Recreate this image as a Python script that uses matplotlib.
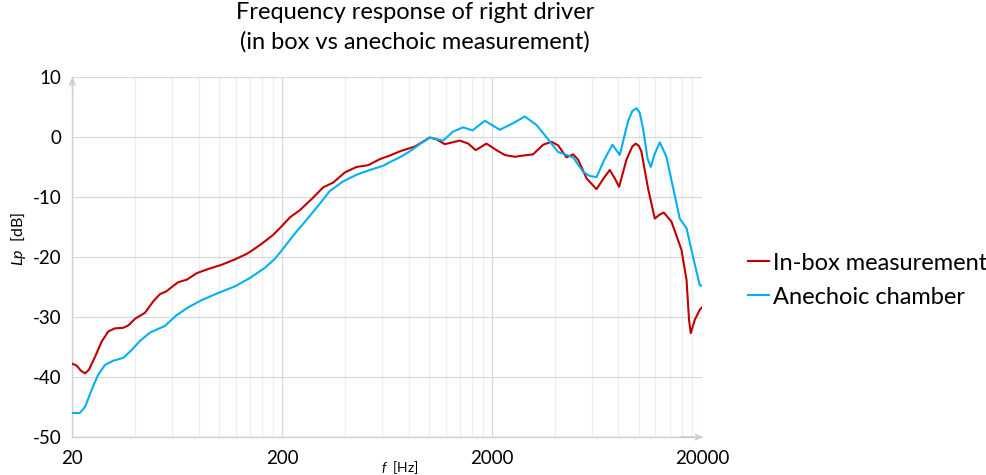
import numpy as np
import matplotlib
matplotlib.use("Agg")
import matplotlib.pyplot as plt
from matplotlib.ticker import FixedLocator, FixedFormatter, NullFormatter

plt.rcParams['font.family'] = ['Lato', 'DejaVu Sans']
plt.rcParams['mathtext.fontset'] = 'custom'
plt.rcParams['mathtext.it'] = 'Lato:italic'
plt.rcParams['mathtext.rm'] = 'Lato'
plt.rcParams['axes.unicode_minus'] = False

# --- data ---
inbox_f = [20, 21, 21.9, 23, 24, 25.7, 27.6, 29.7, 31.9, 35, 37, 39.8, 44.4, 48.6,
           52.3, 56.3, 60.6, 64, 70.1, 78.3, 88.9, 102.9, 119.1, 135.3, 145.5,
           162.5, 181.3, 198.6, 217.7, 242.8, 281, 313.4, 349.9, 398, 452, 514,
           583.5, 651.6, 726, 857, 1010, 1087, 1191, 1403, 1538, 1671, 1879, 2098,
           2297, 2564, 2810, 3134, 3499, 3835, 4124, 4521, 4864, 5140, 5636, 6286,
           6889, 7268, 7680, 8053, 8730, 9300, 9663, 10000, 10282, 11065, 11912,
           12500, 13146, 14299, 15960, 16870, 17345, 17670, 18460, 19500, 20000]
inbox_db = [-37.8, -38.1, -38.9, -39.4, -38.8, -36.6, -34.1, -32.4, -31.9, -31.8,
            -31.4, -30.3, -29.3, -27.4, -26.2, -25.7, -24.8, -24.2, -23.8, -22.7,
            -22.0, -21.3, -20.4, -19.5, -18.8, -17.6, -16.3, -14.9, -13.4, -12.2,
            -10.1, -8.4, -7.6, -5.9, -5.0, -4.7, -3.7, -3.1, -2.4, -1.6, -0.1, -0.4,
            -1.2, -0.6, -1.1, -2.2, -1.1, -2.2, -3.0, -3.3, -3.1, -2.9, -1.3, -0.8,
            -1.4, -3.4, -2.9, -3.8, -6.9, -8.7, -6.6, -5.5, -6.9, -8.3, -3.8, -1.6,
            -1.1, -1.5, -2.4, -8.6, -13.6, -13.0, -12.6, -14.1, -18.8, -23.8, -30.5,
            -32.7, -30.5, -28.8, -28.4]

anech_f = [20, 21.7, 23, 24.7, 26.5, 28.6, 31.3, 35, 38.4, 42, 46.9, 55.2, 62.8,
           71.3, 82.6, 99.1, 119.1, 140.4, 165.5, 184.6, 202.2, 229.7, 261.3,
           302.4, 337.4, 390.4, 452, 523.4, 605.5, 651.6, 726, 811, 905, 1010,
           1169, 1304, 1455, 1613, 1846, 2177, 2519, 2863, 3254, 3564, 3835, 4124,
           4521, 4864, 5422, 5835, 6286, 6889, 7485, 8109, 8884, 9300, 9747, 10100,
           10477, 11000, 11400, 11900, 12588, 13530, 14299, 14826, 15663, 16870,
           18130, 19500, 20000]
anech_db = [-46.0, -46.0, -45.0, -42.2, -39.7, -38.0, -37.3, -36.8, -35.5, -34.0,
            -32.6, -31.5, -29.7, -28.4, -27.2, -26.0, -24.9, -23.5, -21.8, -20.3,
            -18.6, -16.1, -13.8, -11.1, -9.0, -7.4, -6.3, -5.5, -4.8, -4.2, -3.4,
            -2.4, -1.2, -0.1, -0.6, 0.9, 1.6, 1.1, 2.7, 1.2, 2.3, 3.4, 2.0, 0.3,
            -1.1, -2.5, -3.0, -3.4, -5.8, -6.5, -6.7, -3.6, -1.3, -3.0, 2.6, 4.3,
            4.8, 4.0, 1.4, -3.6, -5.0, -2.8, -0.9, -3.3, -7.2, -9.7, -13.6, -15.2,
            -20.0, -24.7, -24.8]

x_major = [20, 200, 2000, 20000]
x_labels = ['20', '200', '2000', '20000']
x_minor = [20 * k * 10 ** n for n in range(3) for k in range(2, 10)]
y_ticks = [10, 0, -10, -20, -30, -40, -50]

fig = plt.figure(figsize=(9.86, 4.75), dpi=100)
ax = fig.add_axes([0.0733, 0.08, 0.6387, 0.758])

ax.plot(inbox_f, inbox_db, color='#c00000', lw=1.5, label='In-box measurement',
        zorder=3)
ax.plot(anech_f, anech_db, color='#00b0f0', lw=1.5, label='Anechoic chamber',
        zorder=3)

ax.set_xscale('log')
ax.set_xlim(20, 20000)
ax.set_ylim(-50, 10)
ax.xaxis.set_major_locator(FixedLocator(x_major))
ax.xaxis.set_major_formatter(FixedFormatter(x_labels))
ax.xaxis.set_minor_locator(FixedLocator(x_minor))
ax.xaxis.set_minor_formatter(NullFormatter())
ax.set_yticks(y_ticks)

ax.grid(True, which='major', color='#d9d9d9', lw=0.9)
ax.grid(True, which='minor', axis='x', color='#eeeeee', lw=0.9)
ax.set_axisbelow(True)

for s in ['top', 'right']:
    ax.spines[s].set_visible(False)
for s in ['left', 'bottom']:
    ax.spines[s].set_color('#d0d0d0')
    ax.spines[s].set_linewidth(1.0)

ax.tick_params(which='both', length=0, labelsize=13.5, colors='#000000')
ax.tick_params(axis='x', pad=9)
ax.tick_params(axis='y', pad=8)

# arrow heads at the axis ends
ax.annotate('', xy=(0, 1.005), xytext=(0, 0.96), xycoords='axes fraction',
            arrowprops=dict(arrowstyle='->', color='#c8c8c8', lw=1.0))
ax.annotate('', xy=(1.005, 0), xytext=(0.96, 0), xycoords='axes fraction',
            arrowprops=dict(arrowstyle='->', color='#c8c8c8', lw=1.0))

ax.set_xlabel(r'$f$  [Hz]', fontsize=10)
ax.xaxis.set_label_coords(0.52, -0.062)
ax.set_ylabel(r'$Lp$  [dB]', fontsize=11.5)
ax.yaxis.set_label_coords(-0.07, 0.55)

fig.text(0.421, 0.995, 'Frequency response of right driver\n(in box vs anechoic measurement)',
         ha='center', va='top', fontsize=17, linespacing=1.45)

fig.legend(loc='center left', bbox_to_anchor=(0.737, 0.41), frameon=False,
           fontsize=17, handlelength=0.9, handletextpad=0.15, labelspacing=0.55)

fig.savefig('out.png', dpi=100)
